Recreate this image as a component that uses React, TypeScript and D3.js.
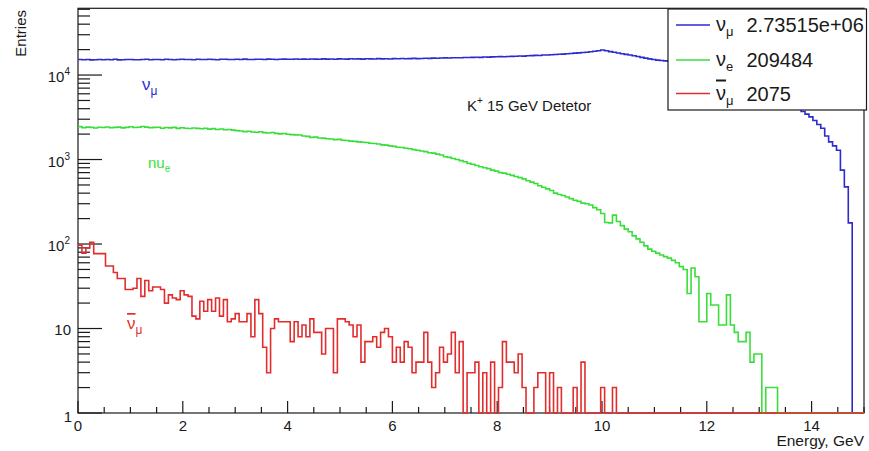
import React from 'react';
import * as d3 from 'd3';

// Histogram: 200 bins of 0.075 GeV from 0 to 15 GeV
const binWidth = 0.075;
const xMax = 15;

const numuValues = [
  15300, 15150, 15250, 15100, 15200, 15300, 15150, 15250, 15200, 15350, 15100, 15200, 15300, 15250, 15150, 15200, 15300, 15350, 15200, 15250,
  15300, 15200, 15350, 15250, 15150, 15300, 15400, 15250, 15300, 15200, 15350, 15300, 15250, 15400, 15300, 15200, 15350, 15400, 15300, 15250,
  15350, 15300, 15450, 15300, 15250, 15400, 15350, 15300, 15450, 15400, 15300, 15350, 15450, 15400, 15350, 15500, 15400, 15450, 15350, 15500,
  15450, 15400, 15550, 15450, 15500, 15400, 15550, 15500, 15450, 15600, 15500, 15550, 15450, 15600, 15550, 15500, 15650, 15550, 15600, 15500,
  15650, 15600, 15700, 15600, 15650, 15750, 15650, 15700, 15800, 15750, 15850, 15800, 15900, 15950, 15900, 16000, 16050, 16000, 16150, 16100,
  16200, 16250, 16200, 16350, 16300, 16400, 16450, 16500, 16450, 16600, 16650, 16700, 16800, 16750, 16900, 17000, 17100, 17050, 17250, 17300,
  17400, 17500, 17650, 17700, 17850, 18000, 18150, 18300, 18450, 18650, 18850, 19100, 19400, 19750, 19350, 18950, 18600, 18200, 17900, 17550,
  17250, 16900, 16550, 16200, 15850, 15550, 15250, 15000, 14850, 14700, 14550, 14400, 14250, 14100, 13900, 13700, 13500, 13300, 13100, 12900,
  12700, 12450, 12200, 11950, 11700, 11400, 11100, 10800, 10500, 10150, 9800, 9450, 9100, 8700, 8300, 7900, 7450, 7000, 6550, 6100,
  5700, 5250, 4800, 4250, 3700, 3450, 3200, 2900, 2600, 2350, 1900, 1620, 1450, 1290, 750, 475, 178, 0, 0, 0,
];

const nueValues = [
  2450, 2380, 2420, 2400, 2360, 2410, 2390, 2430, 2380, 2400,
  2420, 2370, 2400, 2440, 2390, 2410, 2460, 2420, 2380, 2400,
  2410, 2350, 2390, 2370, 2400, 2340, 2380, 2350, 2330, 2360,
  2340, 2310, 2350, 2290, 2320, 2270, 2300, 2250, 2270, 2230,
  2200, 2180, 2140, 2160, 2120, 2100, 2130, 2080, 2060, 2090,
  2040, 2010, 2030, 1990, 1970, 1960, 1950, 1900, 1880, 1830,
  1840, 1800, 1790, 1760, 1750, 1720, 1730, 1690, 1680, 1650,
  1640, 1620, 1600, 1590, 1560, 1550, 1530, 1490, 1480, 1450,
  1430, 1400, 1390, 1360, 1340, 1310, 1290, 1260, 1240, 1205,
  1190, 1160, 1130, 1080, 1060, 1030, 1000, 970, 940, 900,
  880, 850, 820, 800, 780, 750, 730, 700, 690, 670,
  650, 630, 610, 590, 560, 540, 520, 490, 470, 450,
  430, 400, 385, 375, 360, 345, 330, 320, 305, 300,
  290, 270, 255, 230, 180, 178, 220, 185, 165, 150,
  140, 125, 115, 105, 95, 87, 82, 78, 74, 71,
  68, 64, 60, 54, 50, 26, 52, 41, 12, 12,
  26, 19, 19, 11, 11, 25, 11, 9, 7, 7,
  9, 4, 5, 5, 0, 2, 2, 2, 0, 0,
  0, 0, 0, 0, 0, 0, 0, 0, 0, 0,
  0, 0, 0, 0, 0, 0, 0, 0, 0, 0,
];

const numubarValues = [
  97, 78, 90, 105, 77, 77, 77, 55, 55, 46,
  39, 39, 29, 29, 30, 39, 24, 37, 28, 31,
  31, 29, 20, 25, 23, 22, 28, 25, 24, 14,
  13, 21, 16, 22, 16, 23, 14, 22, 12, 13,
  15, 12, 12, 15, 8, 22, 15, 6, 3, 10,
  13, 12, 12, 12, 7, 12, 8, 11, 8, 13,
  9, 9, 5, 10, 10, 3, 13, 13, 12, 11,
  8, 11, 4, 7, 7, 8, 6, 9, 10, 8,
  4, 6, 4, 7, 6, 3, 4, 4, 9, 4,
  2, 3, 6, 4, 5, 9, 3, 7, 0, 3,
  3, 4, 0, 3, 0, 4, 1, 2, 7, 4,
  4, 3, 5, 2, 0, 0, 2, 3, 3, 0,
  3, 0, 2, 0, 0, 0, 2, 0, 4, 0,
  0, 0, 0, 2, 0, 0, 2, 0, 0, 0,
  0, 0, 0, 0, 0, 0, 0, 0, 0, 0,
  0, 0, 0, 0, 0, 0, 0, 0, 0, 0,
  0, 0, 0, 0, 0, 0, 0, 0, 0, 0,
  0, 0, 0, 0, 0, 0, 0, 0, 0, 0,
  0, 0, 0, 0, 0, 0, 0, 0, 0, 0,
  0, 0, 0, 0, 0, 0, 0, 0, 0, 0,
];

const xTickValues = [0, 2, 4, 6, 8, 10, 12, 14];
const yDecadeExponents = [0, 1, 2, 3, 4];
const legendTotals = ['2.73515e+06', '209484', '2075'];
const legendSubs = ['μ', 'e', 'μ'];
const yMaxValue = 61660;

const BLUE = '#2b2bd1';
const GREEN = '#3ade3a';
const RED = '#e32d2d';
const FONT = '"Liberation Sans", Arial, Helvetica, sans-serif';
const INK = '#1a1a1a';

export default function App() {
  const W = 869;
  const H = 451;
  const left = 78;
  const right = 864;
  const top = 8.3;
  const bottom = 413;

  const x = d3.scaleLinear().domain([0, xMax]).range([left, right]);
  const y = d3.scaleLog().domain([1, yMaxValue]).range([bottom, top]);
  const yv = (v: number) => y(Math.max(v, 1));

  const stepPath = (vals: number[]) => {
    let p = `M${x(0)},${yv(vals[0])}`;
    vals.forEach((v, i) => {
      p += `V${yv(v)}H${x((i + 1) * binWidth)}`;
    });
    return p;
  };

  const minorX = d3.range(0, xMax + 0.001, 0.5).filter((t) => !xTickValues.includes(t));
  const minorY: number[] = [];
  yDecadeExponents.forEach((e) => {
    for (let m = 2; m <= 9; m++) {
      const v = m * Math.pow(10, e);
      if (v < yMaxValue) minorY.push(v);
    }
  });

  const colors = [BLUE, GREEN, RED];
  const legendRows = [25, 60, 93.5];

  return (
    <svg width={W} height={H} style={{ position: 'absolute', left: 0, top: 0, background: '#fff' }} fontFamily={FONT}>
      <rect x={0} y={0} width={W} height={H} fill="#fff" />
      {/* frame */}
      <rect x={left} y={top} width={right - left} height={bottom - top} fill="none" stroke={INK} strokeWidth={1.2} />

      {/* y ticks */}
      {yDecadeExponents.map((e) => (
        <line key={'yt' + e} x1={left} x2={left + 24} y1={y(Math.pow(10, e))} y2={y(Math.pow(10, e))} stroke={INK} strokeWidth={1.2} />
      ))}
      {minorY.map((v) => (
        <line key={'ym' + v} x1={left} x2={left + 12} y1={y(v)} y2={y(v)} stroke={INK} strokeWidth={1.2} />
      ))}
      {/* x ticks */}
      {xTickValues.map((t) => (
        <line key={'xt' + t} x1={x(t)} x2={x(t)} y1={bottom} y2={bottom - 12} stroke={INK} strokeWidth={1.2} />
      ))}
      {minorX.map((t) => (
        <line key={'xm' + t} x1={x(t)} x2={x(t)} y1={bottom} y2={bottom - 6} stroke={INK} strokeWidth={1.2} />
      ))}

      {/* histograms */}
      <path d={stepPath(numuValues)} fill="none" stroke={BLUE} strokeWidth={1.6} />
      <path d={stepPath(nueValues)} fill="none" stroke={GREEN} strokeWidth={1.6} />
      <path d={stepPath(numubarValues)} fill="none" stroke={RED} strokeWidth={1.6} />

      {/* y tick labels */}
      {yDecadeExponents.map((e) => {
        const ty = y(Math.pow(10, e));
        if (e === 0) {
          return (
            <text key={'yl' + e} x={72} y={ty + 8.5} textAnchor="end" fontSize={15} fill={INK}>1</text>
          );
        }
        if (e === 1) {
          return (
            <text key={'yl' + e} x={71} y={ty + 6} textAnchor="end" fontSize={15} fill={INK}>10</text>
          );
        }
        return (
          <text key={'yl' + e} x={70} y={ty + 7} textAnchor="end" fontSize={15} fill={INK}>
            <tspan>10</tspan>
            <tspan dy={-7} fontSize={10}>{e}</tspan>
          </text>
        );
      })}

      {/* x tick labels */}
      {xTickValues.map((t) => (
        <text key={'xl' + t} x={x(t)} y={430.5} textAnchor="middle" fontSize={15} fill={INK}>{t}</text>
      ))}

      {/* axis titles */}
      <text x={right} y={446} textAnchor="end" fontSize={15.5} fill={INK}>Energy, GeV</text>
      <text transform={`translate(26,10) rotate(-90)`} textAnchor="end" fontSize={15} fill={INK}>Entries</text>

      {/* annotation */}
      <text x={467} y={110.5} fontSize={15} fill={INK}>
        <tspan>K</tspan>
        <tspan dy={-7} fontSize={10}>+</tspan>
        <tspan dy={7}> 15 GeV Detetor</tspan>
      </text>

      {/* in-plot labels */}
      <text x={142} y={90} fontSize={17} fill={BLUE}>
        <tspan>ν</tspan>
        <tspan dy={5} fontSize={12}>μ</tspan>
      </text>
      <text x={148} y={168} fontSize={15} fill={GREEN}>
        <tspan>nu</tspan>
        <tspan dy={4} fontSize={10}>e</tspan>
      </text>
      <text x={127} y={329} fontSize={17} fill={RED}>
        <tspan style={{ textDecoration: 'overline' }}>ν</tspan>
        <tspan dy={5} fontSize={12}>μ</tspan>
      </text>

      {/* legend */}
      <rect x={668} y={9} width={198.5} height={101} fill="#fff" stroke={INK} strokeWidth={1.2} />
      {legendRows.map((ly, i) => (
        <g key={'lg' + i}>
          <line x1={676} x2={710} y1={ly} y2={ly} stroke={colors[i]} strokeWidth={1.6} />
          <text x={716} y={ly + 6} fontSize={20} fill={INK}>
            <tspan style={i === 2 ? { textDecoration: 'overline' } : undefined}>ν</tspan>
            <tspan dy={5} fontSize={13}>{legendSubs[i]}</tspan>
          </text>
          <text x={746.5} y={ly + 7} fontSize={20} fill={INK}>{legendTotals[i]}</text>
        </g>
      ))}
    </svg>
  );
}
